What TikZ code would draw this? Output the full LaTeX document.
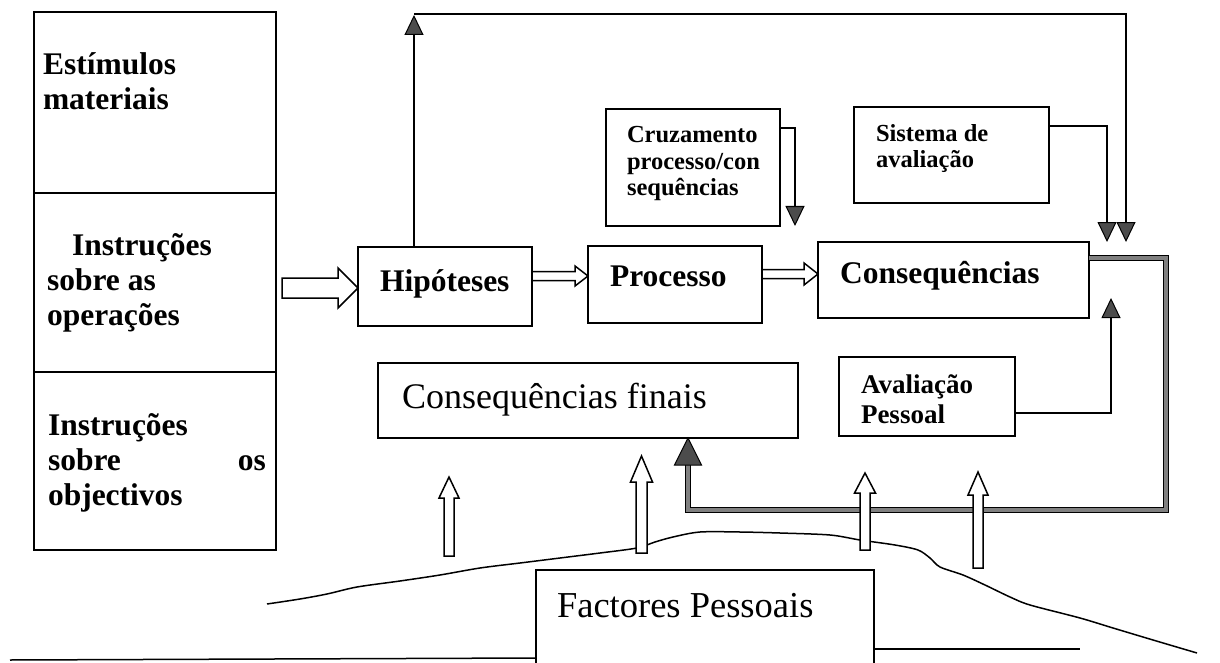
\documentclass[tikz,border=0pt]{standalone}
\usepackage{fontspec}
\setmainfont{Liberation Serif}
\usetikzlibrary{arrows.meta,calc}

% hollow block arrow pointing right: start, tip, shaft half-width, head half-width, head length
\newcommand\hblock[5]{%
  \path[blockarrow] let \p1=#1, \p2=#2 in
    (\x1,\y1+#3) -- (\x2-#5,\y1+#3) -- (\x2-#5,\y1+#4) -- (\x2,\y1)
    -- (\x2-#5,\y1-#4) -- (\x2-#5,\y1-#3) -- (\x1,\y1-#3) -- cycle;}
% hollow block arrow pointing up: foot, tip, shaft half-width, head half-width, head length
\newcommand\vblock[5]{%
  \path[blockarrow] let \p1=#1, \p2=#2 in
    (\x1-#3,\y1) -- (\x1-#3,\y2-#5) -- (\x1-#4,\y2-#5) -- (\x1,\y2)
    -- (\x1+#4,\y2-#5) -- (\x1+#3,\y2-#5) -- (\x1+#3,\y1) -- cycle;}

\tikzset{
  box/.style={draw, line width=1.5pt, inner sep=0pt, outer sep=0pt, anchor=north west},
  conn/.style={draw, line width=1.8pt},
  tri/.tip={Triangle[width=19pt,length=20pt,fill=black!70,line width=1pt]},
  blockarrow/.style={draw, fill=white, line width=1.5pt, line join=miter},
  feedback/.style={draw=black, line width=1.2pt, double=black!50, double distance=3.5pt},
  lbl/.style={anchor=base west, inner sep=0pt, outer sep=0pt},
  side/.style={lbl, font=\fontsize{31.5}{36}\selectfont\bfseries},
  main/.style={lbl, font=\fontsize{31.5}{36}\selectfont\bfseries},
  small/.style={lbl, font=\fontsize{24.5}{28}\selectfont\bfseries},
  plain/.style={lbl, font=\fontsize{36}{40}\selectfont},
}

\begin{document}
\begin{tikzpicture}[x=1pt,y=-1pt]
\useasboundingbox (0,0) rectangle (1220,663);
\clip (0,0) rectangle (1220,663);

% left column of instructions
\node[box, minimum width=242pt, minimum height=181pt] (s1) at (34,12) {};
\node[box, minimum width=242pt, minimum height=179pt] (s2) at (34,193) {};
\node[box, minimum width=242pt, minimum height=178pt] (s3) at (34,372) {};
\node[side] (t1a) at (43,75) {Estímulos};
\node[side] (t1b) at (43,110) {materiais};
\node[side] (t2a) at (72,255) {Instruções};
\node[side] (t2b) at (47,290) {sobre as};
\node[side] (t2c) at (47,325) {operações};
\node[side] (t3a) at (48,435) {Instruções};
\node[side] (t3b) at (48,470) {sobre};
\node[side, anchor=base east] (t3c) at (266,470) {os};
\node[side] (t3d) at (48,505) {objectivos};

% main chain
\node[box, minimum width=174pt, minimum height=79pt] (hip) at (358,247) {};
\node[main] (thip) at (380,291) {Hipóteses};
\node[box, minimum width=174pt, minimum height=77pt] (proc) at (588,246) {};
\node[main] (tproc) at (610,286) {Processo};
\node[box, minimum width=271pt, minimum height=76pt] (cons) at (818,242) {};
\node[main] (tcons) at (840,283) {Consequências};

% upper boxes
\node[box, minimum width=174pt, minimum height=117pt] (cruz) at (606,109) {};
\node[small] (tcr1) at (627,143) {Cruzamento};
\node[small] (tcr2) at (627,170) {processo/con};
\node[small] (tcr3) at (627,196) {sequências};
\node[box, minimum width=195pt, minimum height=96pt] (sist) at (854,107) {};
\node[small] (tsi1) at (876,142) {Sistema de};
\node[small] (tsi2) at (876,168) {avaliação};

% lower boxes
\node[box, minimum width=420pt, minimum height=75pt] (cfin) at (378,363) {};
\node[plain] (tcfin) at (402,408) {Consequências finais};
\node[box, minimum width=176pt, minimum height=79pt] (aval) at (839,357) {};
\node[lbl, font=\fontsize{27}{30}\selectfont\bfseries] (tav1) at (861,393) {Avaliação};
\node[lbl, font=\fontsize{27}{30}\selectfont\bfseries] (tav2) at (861,423) {Pessoal};
\node[box, minimum width=338pt, minimum height=110pt] (fact) at (536,570) {};
\node[lbl, font=\fontsize{36.5}{40}\selectfont] (tfact) at (557,617) {Factores Pessoais};

% ground lines and hill
\draw[line width=1.5pt] (10,660) -- (fact.west |- 0,658);
\draw[line width=1.5pt] (fact.east |- 0,649) -- (1080,649);
\draw[line width=1.5pt] plot[smooth, tension=0.5] coordinates {
  (267,604) (300,599) (327,594) (357,587) (400,581) (440,575) (480,568)
  (520,563) (560,558) (600,553) (637,548) (655,542) (673,537) (700,532)
  (740,532) (780,533) (830,535) (860,540) (895,545) (918,550) (930,558)
  (940,567) (963,575) (985,585) (1010,597) (1030,605) (1080,618)
  (1113,628) (1153,640) (1197,653)};

% thin feedback connectors
\draw[conn, -{tri}] (hip.north -| 414,0) -- (414,15);
\draw[conn, -{tri}] (414,14) -- (1126,14) -- (cons.north -| 1126,0);
\draw[conn, -{tri}] (cruz.east |- 0,128) -- (795,128) -- (cruz.south -| 795,0);
\draw[conn, -{tri}] (sist.east |- 0,126) -- (1107,126) -- (cons.north -| 1107,0);
\draw[conn, -{tri}] (aval.east |- 0,413) -- (1111,413) -- ($(cons.south -| 1111,0)+(0,-20)$);

% thick loop back to the final consequences
\coordinate (fbtip) at (cfin.south -| 688,0);
\draw[feedback] (cons.east |- 0,258) -- (1166,258) -- (1166,510) -- (688,510)
  -- ($(fbtip)+(0,26)$);
\filldraw[fill=black!70, draw=black, line width=1pt]
  ($(fbtip)+(-13.5,27)$) -- (fbtip) -- ($(fbtip)+(13.5,27)$) -- cycle;

% hollow block arrows along the chain
\hblock{($(s2.east |- 0,288)+(6,0)$)}{(hip.west |- 0,288)}{10pt}{20pt}{20pt}
\hblock{(hip.east |- 0,276)}{(proc.west |- 0,276)}{4.5pt}{10pt}{13pt}
\hblock{(proc.east |- 0,274)}{(cons.west |- 0,274)}{4.5pt}{11pt}{14pt}

% hollow arrows rising from the personal factors
\coordinate (u1) at (449,556); \coordinate (u1t) at (449,477);
\coordinate (u2) at (641.5,553); \coordinate (u2t) at (641.5,456);
\coordinate (u3) at (865,550); \coordinate (u3t) at (865,473);
\coordinate (u4) at (978,568); \coordinate (u4t) at (978,472);
\vblock{(u1)}{(u1t)}{5pt}{10pt}{21pt}
\vblock{(u2)}{(u2t)}{5.5pt}{11pt}{26pt}
\vblock{(u3)}{(u3t)}{5pt}{10.5pt}{20pt}
\vblock{(u4)}{(u4t)}{5pt}{10pt}{23pt}
\end{tikzpicture}
\end{document}
